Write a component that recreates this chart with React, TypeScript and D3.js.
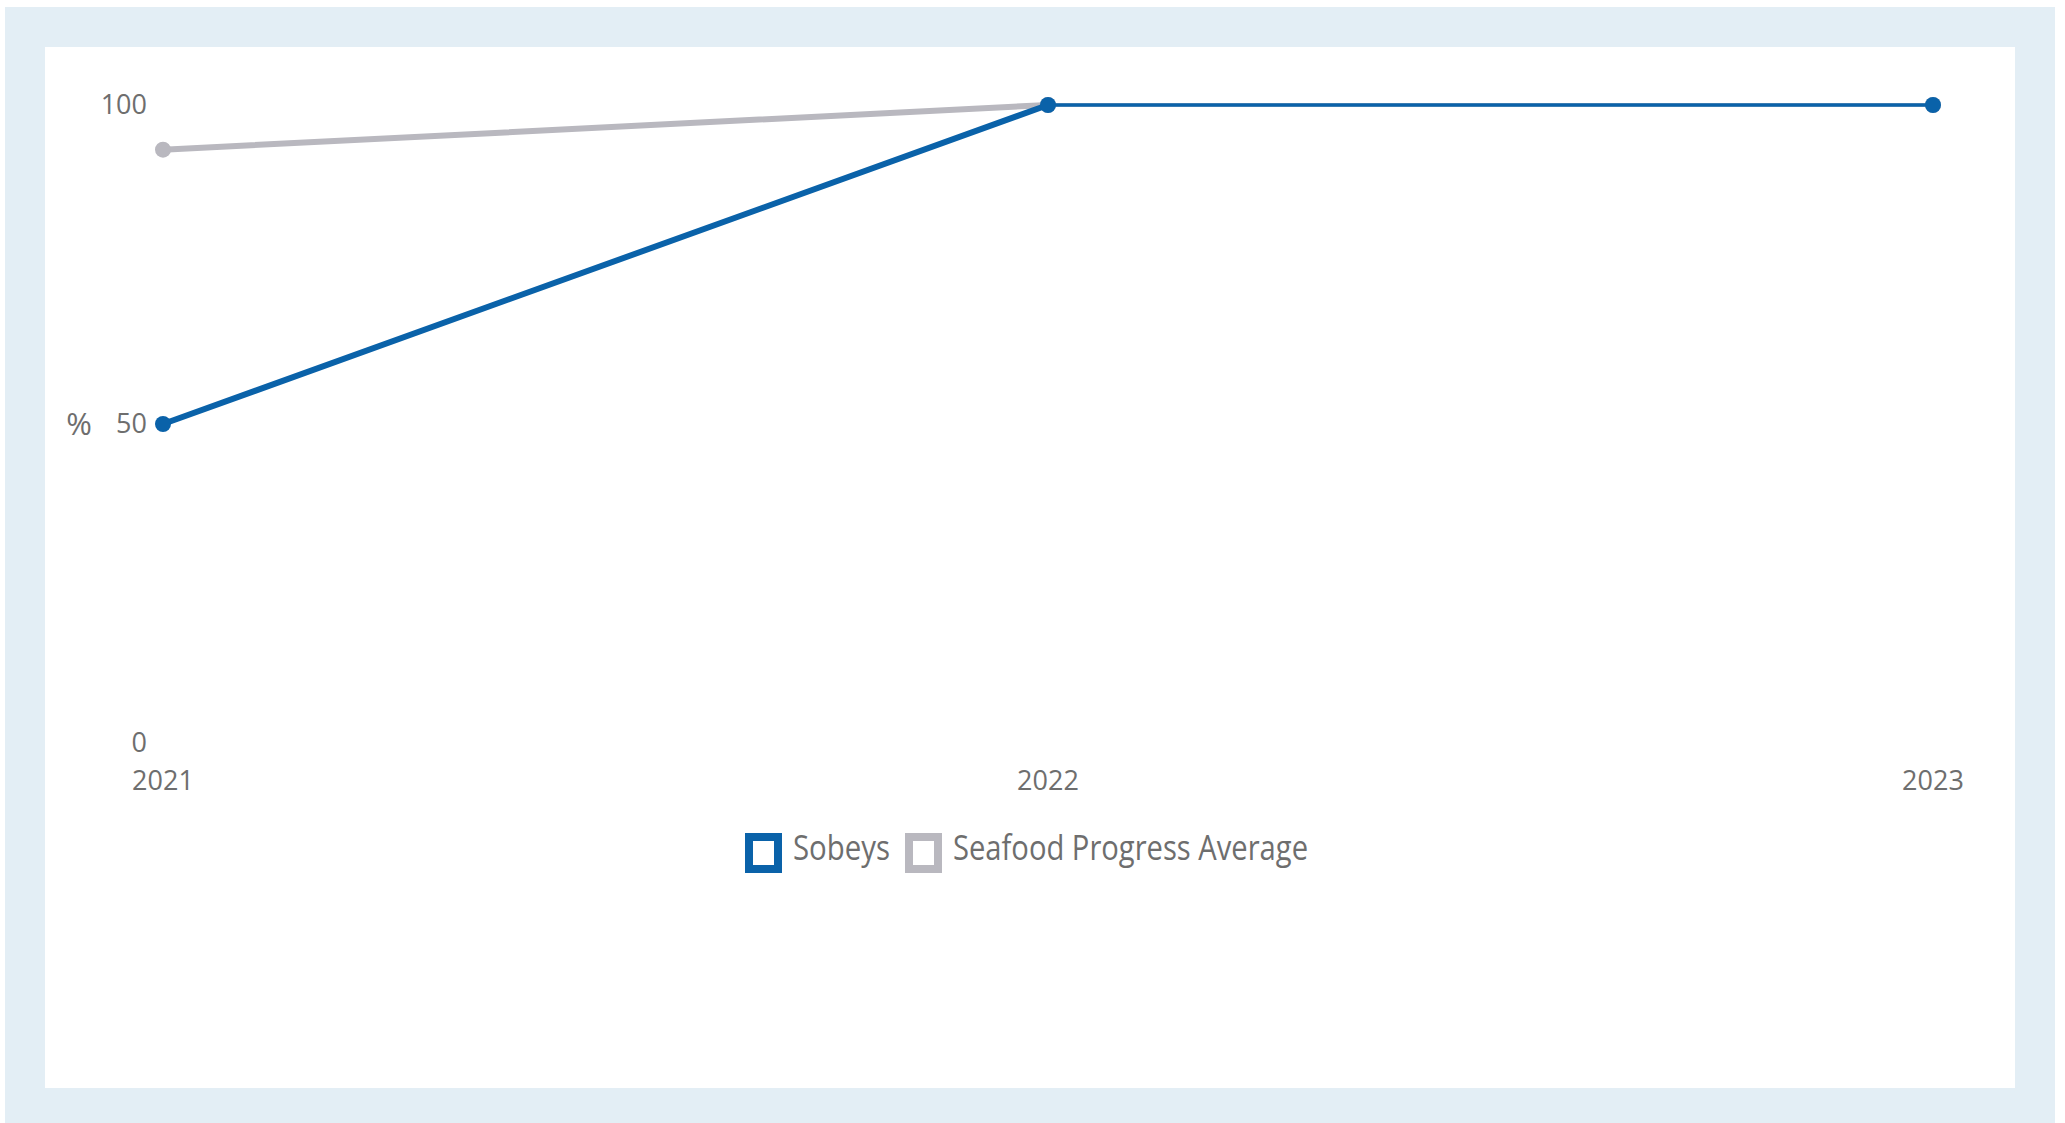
import React from "react";
import * as d3 from "d3";

const years = ["2021", "2022", "2023"];
const sobeys = [50, 100, 100];
const seafoodAvg = [93, 100, 100];
const yTicks = [0, 50, 100];
const seriesNames = ["Sobeys", "Seafood Progress Average"];

const W = 2065;
const H = 1123;
const BLUE = "#0a62a9";
const GREY = "#b9b8bf";
const TEXT = "#6e6e6e";
const FONT = "'Open Sans', 'Noto Sans', sans-serif";

export default function App() {
  const x = d3.scalePoint<string>().domain(years).range([163, 1933]);
  const y = d3.scaleLinear().domain([0, 100]).range([743, 105]);

  const line = d3
    .line<{ i: number; v: number }>()
    .x((d) => x(years[d.i]) as number)
    .y((d) => y(d.v));

  const series = [
    { name: seriesNames[1], values: seafoodAvg, color: GREY },
    { name: seriesNames[0], values: sobeys, color: BLUE },
  ];

  const legendItems = [
    { name: seriesNames[0], color: BLUE, x: 745, textLen: 97 },
    { name: seriesNames[1], color: GREY, x: 905, textLen: 355 },
  ];

  return (
    <div style={{ position: "fixed", left: 0, top: 0, width: W, height: H }}>
      <svg width={W} height={H} style={{ display: "block" }}>
        <rect x={0} y={0} width={W} height={H} fill="#ffffff" />
        <rect x={5} y={7} width={2050} height={1116} fill="#e3eef5" />
        <rect x={45} y={47} width={1970} height={1041} fill="#ffffff" />

        {/* y axis labels */}
        {yTicks.map((t) => (
          <text
            key={t}
            x={147}
            y={y(t)}
            dy="0.35em"
            textAnchor="end"
            fontFamily={FONT}
            fontSize={27}
            fill={TEXT}
          >
            {t}
          </text>
        ))}
        <text x={79} y={y(50)} dy="0.35em" textAnchor="middle" fontFamily={FONT} fontSize={31} fill={TEXT}>
          %
        </text>

        {/* x axis labels */}
        {years.map((yr) => (
          <text
            key={yr}
            x={x(yr) as number}
            y={781}
            dy="0.35em"
            textAnchor="middle"
            fontFamily={FONT}
            fontSize={27}
            fill={TEXT}
          >
            {yr}
          </text>
        ))}

        {/* lines, drawn per segment */}
        {series.map((s) => (
          <g key={s.name}>
            {s.values.slice(1).map((v, k) => {
              const a = { i: k, v: s.values[k] };
              const b = { i: k + 1, v };
              const flat = a.v === b.v;
              return (
                <path
                  key={k}
                  d={line([a, b]) || ""}
                  fill="none"
                  stroke={s.color}
                  strokeWidth={flat ? 3.5 : 6}
                  strokeLinecap="round"
                />
              );
            })}
            {s.values.map((v, i) => (
              <circle key={i} cx={x(years[i]) as number} cy={y(v)} r={8} fill={s.color} />
            ))}
          </g>
        ))}

        {/* legend */}
        {legendItems.map((l) => (
          <g key={l.name}>
            <rect x={l.x + 4} y={837} width={29} height={32} fill="#fff" stroke={l.color} strokeWidth={8} />
            <text
              x={l.x + 48}
              y={860}
              fontFamily={FONT}
              fontSize={35}
              fill={TEXT}
              textLength={l.textLen}
              lengthAdjust="spacingAndGlyphs"
            >
              {l.name}
            </text>
          </g>
        ))}
      </svg>
    </div>
  );
}
